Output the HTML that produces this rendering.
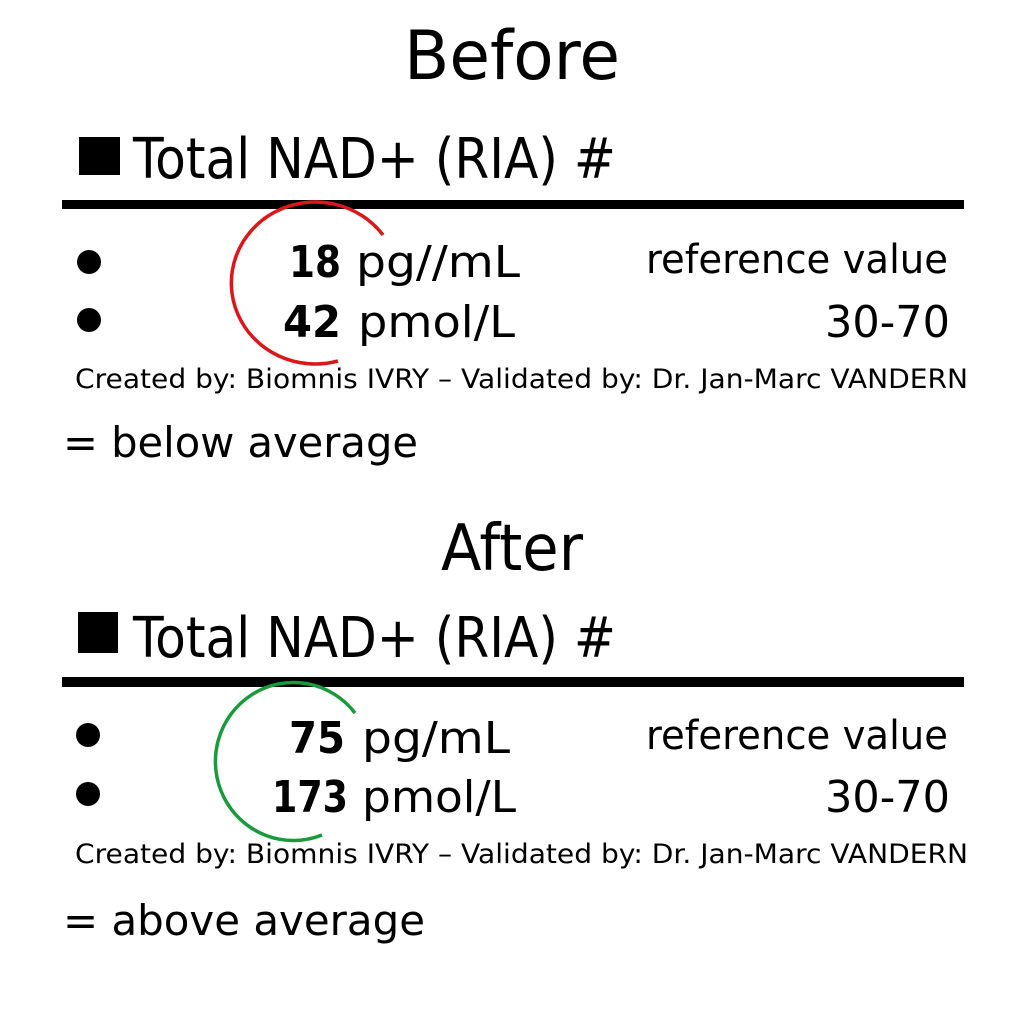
<!DOCTYPE html>
<html><head><meta charset="utf-8"><style>
html,body{margin:0;padding:0;background:#fff;}
svg{display:block;}
text{font-family:"DejaVu Sans","Liberation Sans",sans-serif;fill:#000;}
</style></head><body>
<svg width="1024" height="1024" viewBox="0 0 1024 1024" xmlns="http://www.w3.org/2000/svg">
<rect width="1024" height="1024" fill="#fff"/>
<!-- BEFORE -->
<text x="512" y="79" font-size="68" text-anchor="middle" textLength="216" lengthAdjust="spacingAndGlyphs">Before</text>
<rect x="79" y="137" width="41" height="38"/>
<text x="133" y="178" font-size="56" textLength="483" lengthAdjust="spacingAndGlyphs">Total NAD+ (RIA) #</text>
<rect x="62" y="200" width="902" height="9"/>
<circle cx="89" cy="262" r="12"/>
<circle cx="89" cy="320" r="12"/>
<text x="289" y="277" font-size="44" font-weight="bold" textLength="52" lengthAdjust="spacingAndGlyphs">18</text>
<text x="356" y="277" font-size="44" textLength="164" lengthAdjust="spacingAndGlyphs">pg//mL</text>
<text x="283" y="337" font-size="44" font-weight="bold" textLength="58" lengthAdjust="spacingAndGlyphs">42</text>
<text x="358" y="337" font-size="44" textLength="157" lengthAdjust="spacingAndGlyphs">pmol/L</text>
<text x="646" y="273" font-size="40" textLength="302" lengthAdjust="spacingAndGlyphs">reference value</text>
<text x="825" y="337" font-size="44" textLength="125" lengthAdjust="spacingAndGlyphs">30-70</text>
<text x="75" y="388" font-size="27" textLength="893" lengthAdjust="spacingAndGlyphs">Created by: Biomnis IVRY – Validated by: Dr. Jan-Marc VANDERN</text>
<text x="63" y="457" font-size="42" textLength="355" lengthAdjust="spacingAndGlyphs">= below average</text>
<path d="M383 235 A84 81 0 1 0 338 361" fill="none" stroke="#d9181c" stroke-width="3.5"/>
<!-- AFTER -->
<text x="512" y="570" font-size="64" text-anchor="middle" textLength="142" lengthAdjust="spacingAndGlyphs">After</text>
<rect x="78" y="612" width="40" height="41"/>
<text x="133" y="657" font-size="56" textLength="483" lengthAdjust="spacingAndGlyphs">Total NAD+ (RIA) #</text>
<rect x="62" y="677" width="902" height="10"/>
<circle cx="88" cy="735" r="12"/>
<circle cx="88" cy="794" r="12"/>
<text x="289" y="753" font-size="44" font-weight="bold" textLength="56" lengthAdjust="spacingAndGlyphs">75</text>
<text x="362" y="753" font-size="44" textLength="148" lengthAdjust="spacingAndGlyphs">pg/mL</text>
<text x="272" y="812" font-size="44" font-weight="bold" textLength="76" lengthAdjust="spacingAndGlyphs">173</text>
<text x="362" y="812" font-size="44" textLength="154" lengthAdjust="spacingAndGlyphs">pmol/L</text>
<text x="646" y="749" font-size="40" textLength="302" lengthAdjust="spacingAndGlyphs">reference value</text>
<text x="825" y="812" font-size="44" textLength="125" lengthAdjust="spacingAndGlyphs">30-70</text>
<text x="75" y="863" font-size="27" textLength="893" lengthAdjust="spacingAndGlyphs">Created by: Biomnis IVRY – Validated by: Dr. Jan-Marc VANDERN</text>
<text x="63" y="935" font-size="42" textLength="362" lengthAdjust="spacingAndGlyphs">= above average</text>
<path d="M355 713 A78 79 0 1 0 322 835" fill="none" stroke="#1a9a3a" stroke-width="3.5"/>
</svg>
</body></html>
